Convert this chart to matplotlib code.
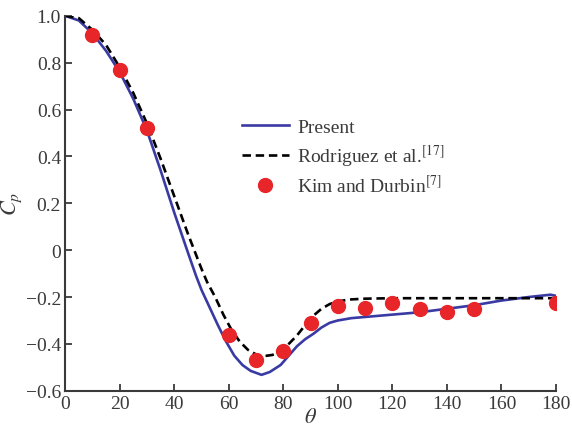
import numpy as np
import matplotlib
matplotlib.use('Agg')
import matplotlib.pyplot as plt

plt.rcParams['font.family'] = 'Liberation Serif'
plt.rcParams['mathtext.fontset'] = 'stix'

# Present simulation
theta_present = [0, 5, 10, 15, 20, 25, 30, 35, 40, 45, 48, 50, 53, 56, 59, 62, 65, 68,
                 72, 75, 79, 82, 85, 88, 91, 94, 97, 100, 105, 110, 120, 130, 140,
                 150, 160, 170, 178, 180]
cp_present = [1.0, 0.98, 0.925, 0.85, 0.76, 0.645, 0.51, 0.34, 0.16, -0.01, -0.11,
              -0.17, -0.245, -0.32, -0.39, -0.45, -0.49, -0.515, -0.532, -0.52, -0.49,
              -0.45, -0.41, -0.38, -0.357, -0.33, -0.31, -0.30, -0.29, -0.285, -0.275,
              -0.265, -0.25, -0.235, -0.215, -0.20, -0.19, -0.195]

# Rodriguez et al.
theta_rod = [0, 5, 10, 15, 20, 25, 30, 35, 40, 45, 48, 50, 52, 55, 58, 61, 64, 67,
             70, 73, 76, 79, 82, 85, 88, 91, 94, 97, 100, 105, 110, 120, 140, 160, 180]
cp_rod = [1.0, 0.99, 0.94, 0.875, 0.78, 0.67, 0.54, 0.39, 0.23, 0.07, -0.02, -0.08,
          -0.135, -0.20, -0.275, -0.34, -0.39, -0.425, -0.445, -0.452, -0.447, -0.433,
          -0.40, -0.364, -0.32, -0.28, -0.25, -0.23, -0.218, -0.21, -0.207, -0.205,
          -0.205, -0.205, -0.205]

# Kim and Durbin
theta_kim = [10, 20, 30, 60, 70, 80, 90, 100, 110, 120, 130, 140, 150, 180]
cp_kim = [0.92, 0.77, 0.52, -0.36, -0.47, -0.43, -0.31, -0.24, -0.245, -0.225,
          -0.25, -0.265, -0.25, -0.225]

fig = plt.figure(figsize=(5.72, 4.31), dpi=100)
ax = fig.add_axes([0.114, 0.091, 0.858, 0.87])

ax.plot(theta_present, cp_present, color='#3a3aa4', lw=1.9, label='Present')
ax.plot(theta_rod, cp_rod, color='black', lw=1.9, ls=(0, (3.2, 1.8)),
        label='Rodriguez et al.$^{[17]}$')
ax.plot(theta_kim, cp_kim, 'o', color='#e8262a', ms=10, ls='none',
        label='Kim and Durbin$^{[7]}$')

ax.set_xlim(0, 180)
ax.set_ylim(-0.6, 1.0)
ax.set_xticks(np.arange(0, 181, 20))
ax.set_yticks(np.arange(-0.6, 1.01, 0.2))
ax.set_yticklabels(['\u22120.6', '\u22120.4', '\u22120.2', '0', '0.2', '0.4',
                    '0.6', '0.8', '1.0'])
ax.tick_params(direction='in', labelsize=14, width=1.3, length=5, pad=3,
               colors='#3a3a3a')
for s in ['top', 'right']:
    ax.spines[s].set_visible(False)
for s in ['left', 'bottom']:
    ax.spines[s].set_linewidth(1.5)
    ax.spines[s].set_color('#3a3a3a')

ax.set_xlabel(r'$\theta$', fontsize=16, labelpad=-3, color='#3a3a3a')
ax.set_ylabel(r'$C_p$', fontsize=16, labelpad=1, color='#3a3a3a')

ax.legend(loc='upper left', bbox_to_anchor=(0.36, 0.726), frameon=False,
          fontsize=14, handlelength=2.4, labelspacing=0.3, handletextpad=0.45,
          borderpad=0, borderaxespad=0, labelcolor='#3a3a3a')

fig.savefig('out.png', dpi=100)
